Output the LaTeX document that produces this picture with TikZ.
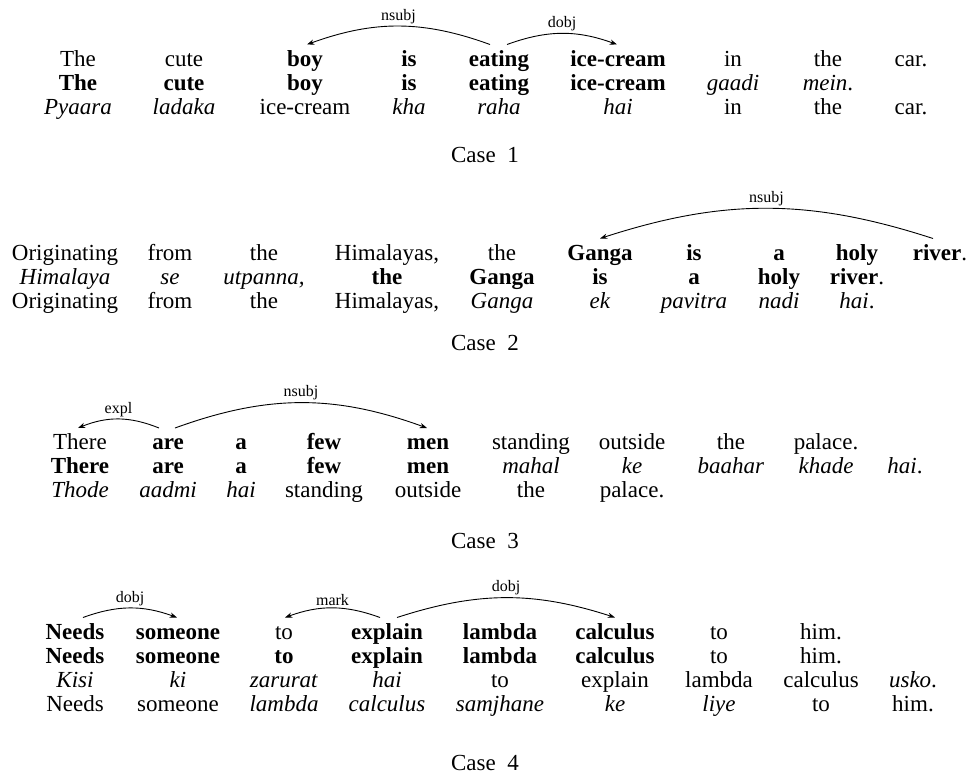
\documentclass[tikz,border=0pt]{standalone}
\usepackage{fontspec}
\setmainfont{Liberation Serif}
\usetikzlibrary{arrows.meta}

\tikzset{
	word/.style={anchor=base, inner sep=0pt, font=\fontsize{11.5}{12}\selectfont},
	dep/.style={-{Stealth[length=3.6pt, width=2.6pt]}, line width=0.45pt},
	deplabel/.style={midway, above, inner sep=1pt, font=\fontsize{8}{9}\selectfont},
	caselabel/.style={anchor=base, inner sep=0pt, font=\fontsize{11.5}{12}\selectfont}
}

\begin{document}
\begin{tikzpicture}[x=0.5pt, y=-0.5pt]
	\useasboundingbox (0,0) rectangle (970,777);

	% Case 1
	\foreach \x/\w [count=\i] in {78/The, 184/cute, 305/\textbf{boy}, 409/\textbf{is}, 499/\textbf{eating}, 618/\textbf{ice-cream}, 733/in, 828/the, 911/car.}
		\node[word] (c1a\i) at (\x,66) {\w};
	\foreach \x/\w [count=\i] in {78/\textbf{The}, 184/\textbf{cute}, 305/\textbf{boy}, 409/\textbf{is}, 499/\textbf{eating}, 618/\textbf{ice-cream}, 733/\textit{gaadi}, 828/\textit{mein}.}
		\node[word] (c1b\i) at (\x,90) {\w};
	\foreach \x/\w [count=\i] in {78/\textit{Pyaara}, 184/\textit{ladaka}, 305/ice-cream, 409/\textit{kha}, 499/\textit{raha}, 618/\textit{hai}, 733/in, 828/the, 911/car.}
		\node[word] (c1c\i) at (\x,114) {\w};
	\draw[dep] ([xshift=-4.5pt, yshift=10.75pt]c1a5.base) to[bend right=20] node[deplabel]{nsubj} ([xshift=1pt, yshift=10.75pt]c1a3.base);
	\draw[dep] ([xshift=4pt, yshift=10.75pt]c1a5.base) to[bend left=20] node[deplabel]{dobj} ([xshift=-0.5pt, yshift=10.75pt]c1a6.base);
	\node[caselabel] (case1) at (485,162) {Case\enspace1};

	% Case 2
	\foreach \x/\w [count=\i] in {65/Originating, 170/from, 264/the, 387/{Himalayas,}, 502/the, 600/\textbf{Ganga}, 694/\textbf{is}, 779/\textbf{a}, 857/\textbf{holy}, 940/\textbf{river}.}
		\node[word] (c2a\i) at (\x,260) {\w};
	\foreach \x/\w [count=\i] in {65/\textit{Himalaya}, 170/\textit{se}, 264/\textit{utpanna,}, 387/\textbf{the}, 502/\textbf{Ganga}, 600/\textbf{is}, 694/\textbf{a}, 779/\textbf{holy}, 857/\textbf{river}.}
		\node[word] (c2b\i) at (\x,284) {\w};
	\foreach \x/\w [count=\i] in {65/Originating, 170/from, 264/the, 387/{Himalayas,}, 502/\textit{Ganga}, 600/\textit{ek}, 694/\textit{pavitra}, 779/\textit{nadi}, 857/\textit{hai}.}
		\node[word] (c2c\i) at (\x,308) {\w};
	\draw[dep] ([xshift=-3.5pt, yshift=10.75pt]c2a10.base) to[bend right=18] node[deplabel]{nsubj} ([yshift=10.75pt]c2a6.base);
	\node[caselabel] (case2) at (485,350) {Case\enspace2};

	% Case 3
	\foreach \x/\w [count=\i] in {80/There, 168/\textbf{are}, 241/\textbf{a}, 324/\textbf{few}, 428/\textbf{men}, 531/standing, 632/outside, 731/the, 826/palace.}
		\node[word] (c3a\i) at (\x,449) {\w};
	\foreach \x/\w [count=\i] in {80/\textbf{There}, 168/\textbf{are}, 241/\textbf{a}, 324/\textbf{few}, 428/\textbf{men}, 531/\textit{mahal}, 632/\textit{ke}, 731/\textit{baahar}, 826/\textit{khade}, 905/\textit{hai}.}
		\node[word] (c3b\i) at (\x,473) {\w};
	\foreach \x/\w [count=\i] in {80/\textit{Thode}, 168/\textit{aadmi}, 241/\textit{hai}, 324/standing, 428/outside, 531/the, 632/palace.}
		\node[word] (c3c\i) at (\x,497) {\w};
	\draw[dep] ([xshift=-4.5pt, yshift=10.5pt]c3a2.base) to[bend right=22] node[deplabel]{expl} ([xshift=-1pt, yshift=10.5pt]c3a1.base);
	\draw[dep] ([xshift=3.5pt, yshift=10.5pt]c3a2.base) to[bend left=20] node[deplabel]{nsubj} ([xshift=-0.5pt, yshift=10.5pt]c3a5.base);
	\node[caselabel] (case3) at (485,548) {Case\enspace3};

	% Case 4
	\foreach \x/\w [count=\i] in {75/\textbf{Needs}, 178/\textbf{someone}, 284/to, 387/\textbf{explain}, 500/\textbf{lambda}, 615/\textbf{calculus}, 719/to, 821/him.}
		\node[word] (c4a\i) at (\x,639) {\w};
	\foreach \x/\w [count=\i] in {75/\textbf{Needs}, 178/\textbf{someone}, 284/\textbf{to}, 387/\textbf{explain}, 500/\textbf{lambda}, 615/\textbf{calculus}, 719/to, 821/him.}
		\node[word] (c4b\i) at (\x,663) {\w};
	\foreach \x/\w [count=\i] in {75/\textit{Kisi}, 178/\textit{ki}, 284/\textit{zarurat}, 387/\textit{hai}, 500/to, 615/explain, 719/lambda, 821/calculus, 913/\textit{usko}.}
		\node[word] (c4c\i) at (\x,687) {\w};
	\foreach \x/\w [count=\i] in {75/Needs, 178/someone, 284/\textit{lambda}, 387/\textit{calculus}, 500/\textit{samjhane}, 615/\textit{ke}, 719/\textit{liye}, 821/to, 913/him.}
		\node[word] (c4d\i) at (\x,711) {\w};
	\draw[dep] ([xshift=4pt, yshift=10.75pt]c4a1.base) to[bend left=20] node[deplabel]{dobj} ([xshift=-0.5pt, yshift=10.75pt]c4a2.base);
	\draw[dep] ([xshift=-3.5pt, yshift=10.75pt]c4a4.base) to[bend right=20] node[deplabel]{mark} ([xshift=0.5pt, yshift=10.75pt]c4a3.base);
	\draw[dep] ([xshift=5pt, yshift=10.75pt]c4a4.base) to[bend left=18] node[deplabel]{dobj} ([yshift=10.75pt]c4a6.base);
	\node[caselabel] (case4) at (485,770) {Case\enspace4};
\end{tikzpicture}
\end{document}
